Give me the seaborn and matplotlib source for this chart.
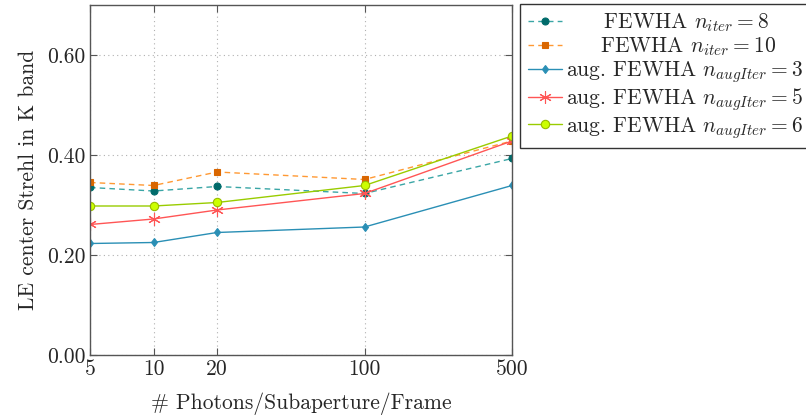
import pandas as pd
import numpy as np
import seaborn as sns
import matplotlib.pyplot as plt

# photons per subaperture per frame
photons = [5, 10, 20, 100, 500]

# LE center Strehl values
fewha_8 = [0.335, 0.328, 0.337, 0.323, 0.393]
fewha_10 = [0.345, 0.339, 0.366, 0.351, 0.428]
aug_3 = [0.223, 0.225, 0.245, 0.256, 0.339]
aug_5 = [0.261, 0.272, 0.290, 0.323, 0.428]
aug_6 = [0.298, 0.298, 0.305, 0.339, 0.438]

labels = [r'FEWHA $n_{iter} = 8$',
          r'FEWHA $n_{iter} = 10$',
          r'aug. FEWHA $n_{augIter} = 3$',
          r'aug. FEWHA $n_{augIter} = 5$',
          r'aug. FEWHA $n_{augIter} = 6$']
# the first two legend entries sit centred in the box
pads = [r'$\hspace{2.0}$', r'$\hspace{1.8}$', '', '', '']

sns.set_style('white')
plt.rcParams['font.family'] = ['cmr10', 'DejaVu Serif']
plt.rcParams['mathtext.fontset'] = 'cm'
plt.rcParams['axes.formatter.use_mathtext'] = True

df = pd.DataFrame({'photons': photons * 5,
                   'strehl': fewha_8 + fewha_10 + aug_3 + aug_5 + aug_6,
                   'series': np.repeat(labels, len(photons))})

fig = plt.figure(figsize=(8.06, 4.19), dpi=100)
ax = fig.add_axes([90 / 806, 1 - 355 / 419, 422 / 806, 350 / 419])

styles = [
    dict(color='#3aa6a6', ls=(0, (4, 3)), marker='o', ms=5, mfc='#006b6b', mec='#006b6b'),
    dict(color='#ff9933', ls=(0, (4, 3)), marker='s', ms=5, mfc='#d96600', mec='#d96600'),
    dict(color='#2a8fb5', ls='-', marker='d', ms=4.5, mfc='#2a8fb5', mec='#2a8fb5'),
    dict(color='#ff5555', ls='-', marker=(6, 2, 0), ms=9, mfc='#ff5555', mec='#ff5555'),
    dict(color='#99cc00', ls='-', marker='o', ms=6, mfc='#ccff00', mec='#99bb00'),
]

for lab, pad, st in zip(labels, pads, styles):
    sub = df[df['series'] == lab]
    sns.lineplot(data=sub, x='photons', y='strehl', ax=ax, label=pad + lab,
                 color=st['color'], linestyle=st['ls'], linewidth=1.0,
                 marker=st['marker'], markersize=st['ms'],
                 markerfacecolor=st['mfc'], markeredgecolor=st['mec'],
                 markeredgewidth=0.8)

ax.set_xscale('log')
ax.set_xlim(5, 500)
ax.set_ylim(0, 0.7)
ax.set_xticks(photons)
ax.set_xticklabels([str(p) for p in photons])
ax.minorticks_off()
ax.set_yticks([0.0, 0.2, 0.4, 0.6])
ax.set_yticklabels(['0.00', '0.20', '0.40', '0.60'])
ax.grid(True, color='#b0b0b0', linestyle=(0, (1, 3)), linewidth=0.8)
ax.tick_params(direction='in', length=5, color='#555555', labelsize=15.5,
               left=True, right=True, bottom=True, top=True, pad=3)
for sp in ax.spines.values():
    sp.set_color('#555555')
    sp.set_linewidth(1.0)

ax.set_xlabel('# Photons/Subaperture/Frame', fontsize=15.5, labelpad=10)
ax.set_ylabel('LE center Strehl in K band', fontsize=15.5, labelpad=7)

leg = ax.legend(loc='upper left', bbox_to_anchor=(520 / 806, 1 - 4 / 419),
                bbox_transform=fig.transFigure, fontsize=15.5, frameon=True,
                fancybox=False, edgecolor='black', handlelength=1.6,
                handletextpad=0.2, borderpad=0.35, borderaxespad=0,
                labelspacing=0.06)
leg.get_frame().set_linewidth(1.0)

fig.savefig('out.png', dpi=100)
